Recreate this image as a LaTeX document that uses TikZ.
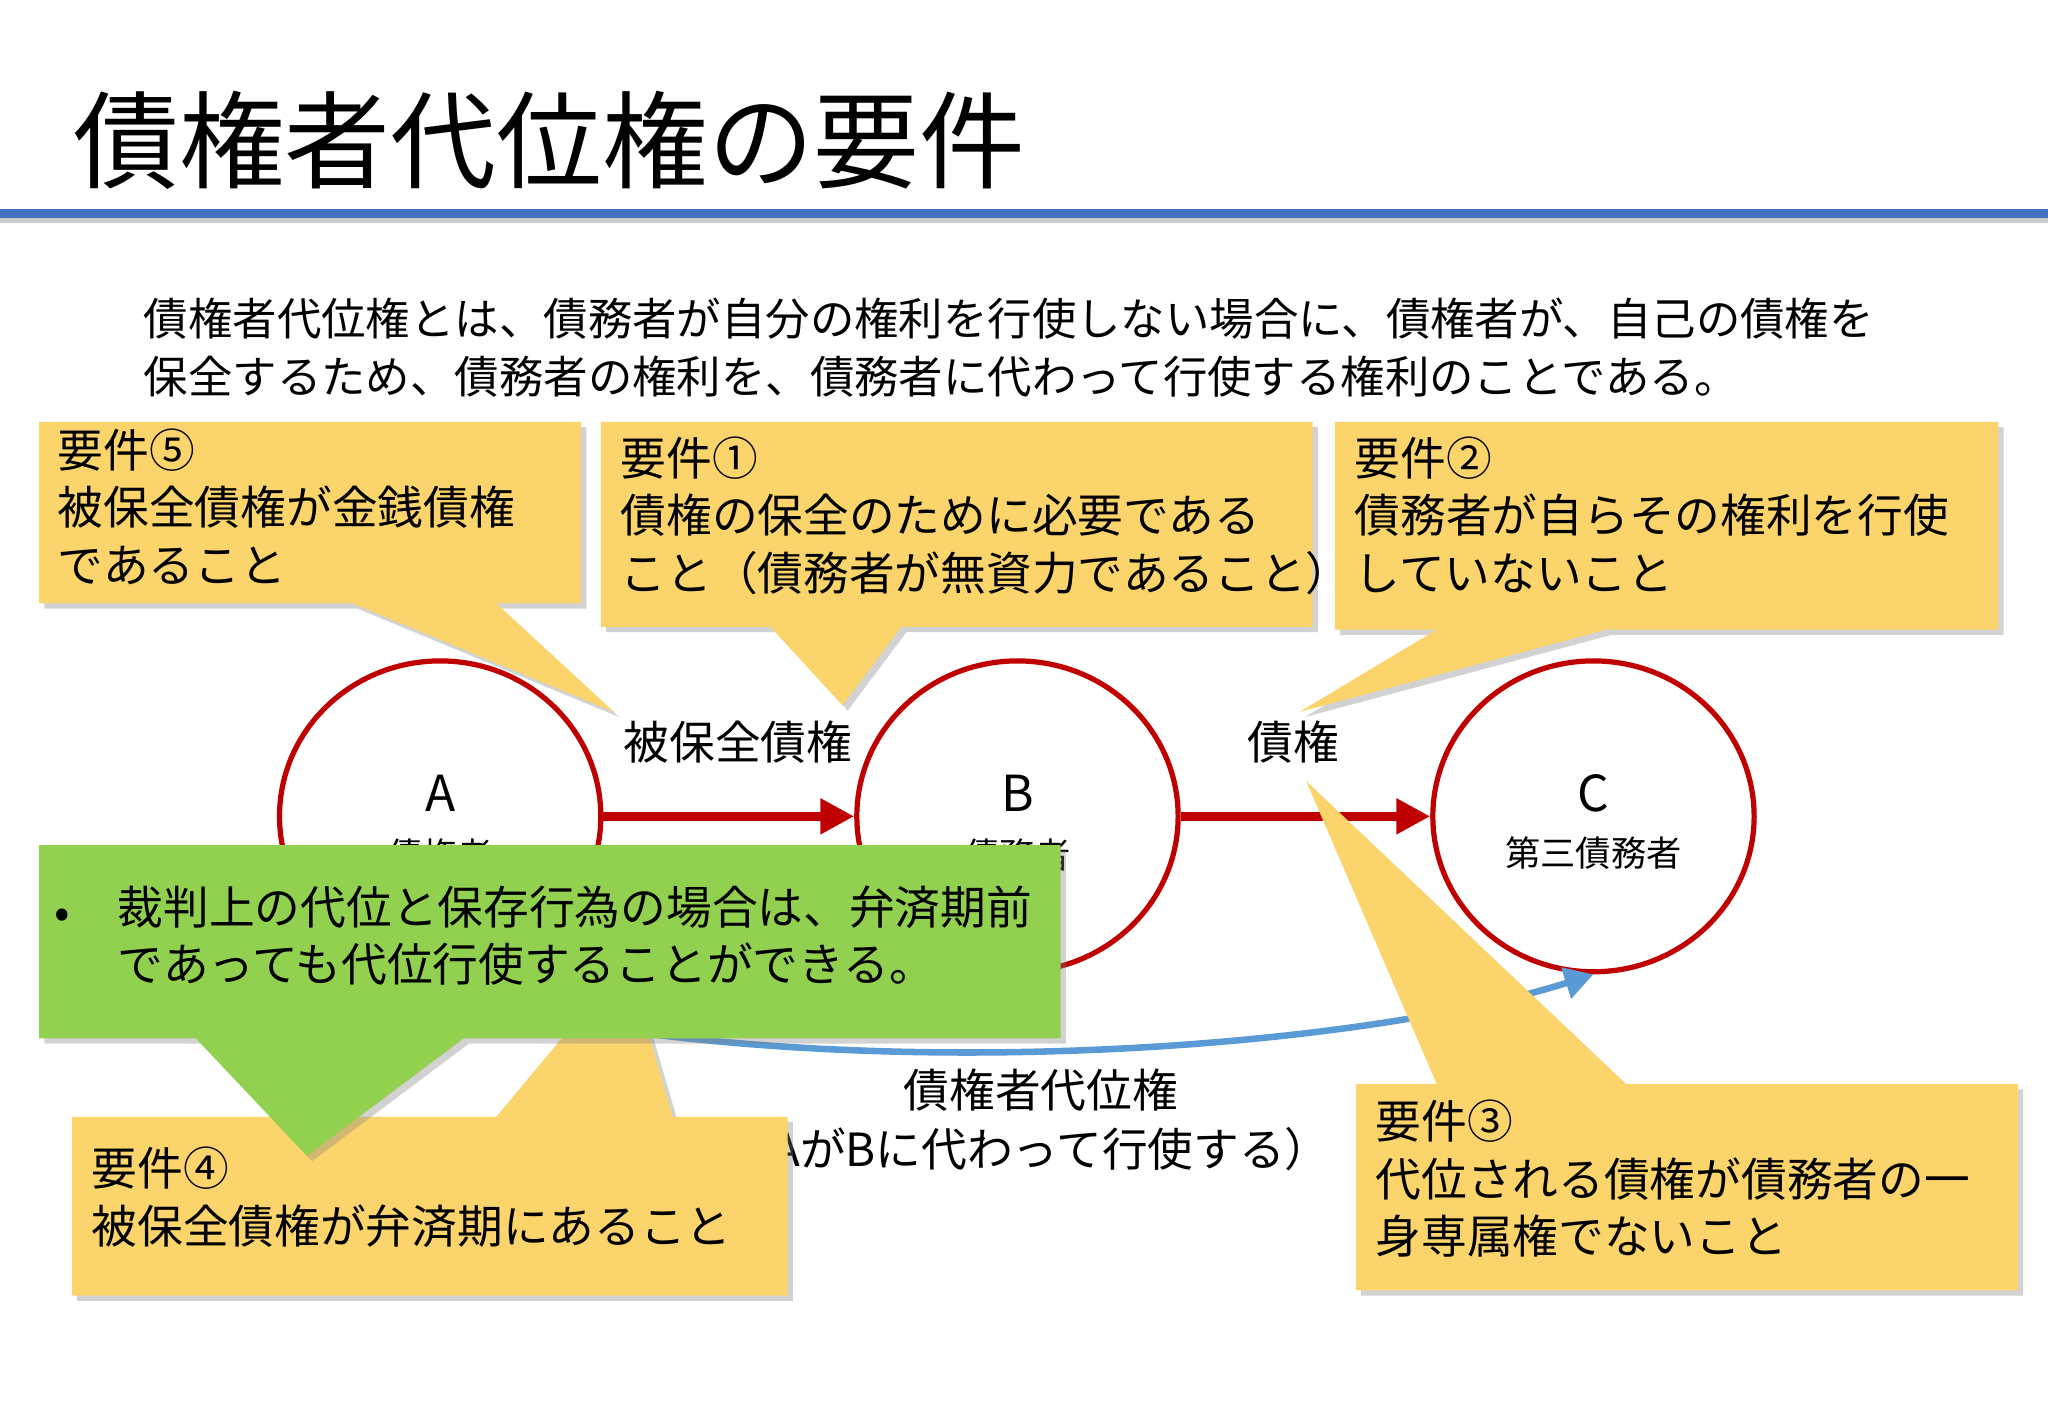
\documentclass[tikz,border=0pt]{standalone}
\usepackage{fontspec}
\setmainfont{Noto Sans CJK JP}
\newfontfamily\titlefont{Noto Sans CJK JP}
\usetikzlibrary{shadows,arrows.meta}
\definecolor{cyel}{HTML}{FBD56B}
\definecolor{cgrn}{HTML}{92D050}
\definecolor{cred}{HTML}{C00000}
\definecolor{cblu}{HTML}{5B9BD5}
\definecolor{ctl}{HTML}{4472C4}
\tikzset{
 callout/.style={fill=cyel,draw=none,drop shadow={shadow xshift=4pt,shadow yshift=-4pt,opacity=.35}},
 gcallout/.style={fill=cgrn,draw=none,drop shadow={shadow xshift=4pt,shadow yshift=-4pt,opacity=.35}},
 circ/.style={ellipse,draw=cred,line width=4pt,fill=white,minimum width=246pt,minimum height=238pt},
 txt/.style={font=\fontsize{35}{44}\selectfont,anchor=north west,align=left,inner sep=0pt},
 lbl/.style={font=\fontsize{35}{40}\selectfont,inner sep=0pt},
 redarr/.style={cred,line width=7pt,-{Triangle[length=26pt,width=26pt]}},
}
\usetikzlibrary{shapes.geometric}
\begin{document}
\begin{tikzpicture}[x=1pt,y=-1pt]
\useasboundingbox (0,0) rectangle (1568,1085);
\fill[white] (0,0) rectangle (1568,1085);
% title
\node[anchor=base west,inner sep=0pt,font=\titlefont\fontsize{81}{84}\selectfont] (title) at (56,138) {債権者代位権の要件};
\fill[gray!40] (0,166) rectangle (1568,171);
\fill[ctl] (0,160) rectangle (1568,167);
\node[txt,font=\fontsize{34}{44}\selectfont] (desc) at (110,228) {債権者代位権とは、債務者が自分の権利を行使しない場合に、債権者が、自己の債権を\\保全するため、債務者の権利を、債務者に代わって行使する権利のことである。};
% circles
\node[circ] (A) at (337,625) {};
\node[circ] (B) at (779,625) {};
\node[circ] (C) at (1220,625) {};
\node[font=\fontsize{38}{40}\selectfont] (At) at (337,607) {A};
\node[font=\fontsize{38}{40}\selectfont] (Bt) at (779,607) {B};
\node[font=\fontsize{38}{40}\selectfont] (Ct) at (1220,607) {C};
\node[font=\fontsize{27}{30}\selectfont] (As) at (337,655) {債権者};
\node[font=\fontsize{27}{30}\selectfont] (Bs) at (779,655) {債務者};
\node[font=\fontsize{27}{30}\selectfont] (Cs) at (1220,653) {第三債務者};
\draw[redarr] (A.east) -- (B.west);
\draw[redarr] (B.east) -- (C.west);
\node[lbl] (l1) at (565,568) {被保全債権};
\node[lbl] (l2) at (990,568) {債権};
% blue curve
\coordinate (bs) at (420,780);
\draw[cblu,line width=5pt,-{Triangle[length=22pt,width=24pt]}] (bs) .. controls (700,830) and (1050,800) .. (C.south);
\node[lbl] (l3) at (797,835) {債権者代位権};
\node[lbl] (l4) at (805,880) {AがBに代わって行使する）};
% callout 5
\path[callout] (30,323) -- (445,323) -- (445,462) -- (380,462) -- (470,545) -- (270,462) -- (30,462) -- cycle;
\node[txt] (t5) at (44,328) {要件⑤\\被保全債権が金銭債権\\であること};
% callout 1
\path[callout] (460,323) -- (1005,323) -- (1005,480) -- (690,480) -- (645,540) -- (590,480) -- (460,480) -- cycle;
\node[txt] (t1) at (475,334) {要件①\\債権の保全のために必要である\\こと（債務者が無資力であること）};
% callout 2
\path[callout] (1022,323) -- (1530,323) -- (1530,482) -- (1230,482) -- (995,545) -- (1100,482) -- (1022,482) -- cycle;
\node[txt] (t2) at (1037,334) {要件②\\債務者が自らその権利を行使\\していないこと};
% callout 3
\path[callout] (1038,830) -- (1100,830) -- (1000,598) -- (1245,830) -- (1545,830) -- (1545,988) -- (1038,988) -- cycle;
\node[txt] (t3) at (1053,842) {要件③\\代位される債権が債務者の一\\身専属権でないこと};
% callout 4
\path[callout] (55,855) -- (380,855) -- (480,735) -- (515,855) -- (603,855) -- (603,992) -- (55,992) -- cycle;
\node[txt] (t4) at (70,878) {要件④\\被保全債権が弁済期にあること};
% green
\path[gcallout] (30,647) -- (812,647) -- (812,795) -- (355,795) -- (235,885) -- (150,795) -- (30,795) -- cycle;
\node[lbl] (bul) at (48,703) {•};
\node[txt] (tg) at (90,678) {裁判上の代位と保存行為の場合は、弁済期前\\であっても代位行使することができる。};
\end{tikzpicture}
\end{document}
